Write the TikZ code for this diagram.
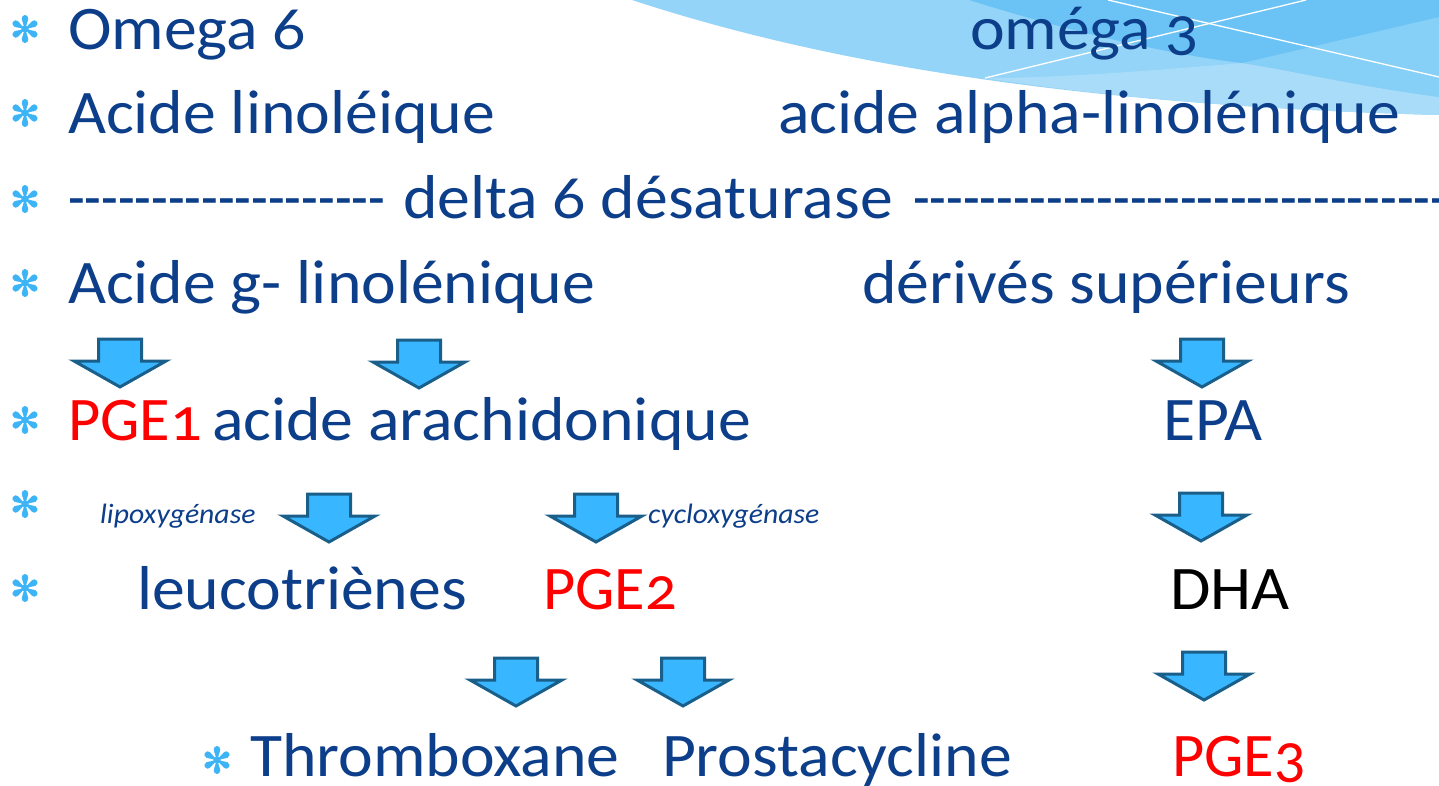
\documentclass[tikz,border=0pt]{standalone}
\usepackage{fontspec}
\setmainfont{Carlito}[FakeStretch=1.06,Numbers=OldStyle,Ligatures=TeXOff]
\newfontfamily\symfont{DejaVu Sans}[FakeBold=1.5]
\definecolor{ppblue}{RGB}{12,62,138}
\definecolor{bulletblue}{RGB}{60,180,245}
\definecolor{arrowfill}{RGB}{56,182,255}
\definecolor{arrowline}{RGB}{26,94,138}
\definecolor{waveA}{RGB}{168,220,249}
\definecolor{waveB}{RGB}{148,212,248}
\definecolor{waveD}{RGB}{134,207,246}
\definecolor{waveC}{RGB}{106,195,244}
\definecolor{pgered}{RGB}{255,0,0}
\tikzset{
  txt/.style={anchor=base west, inner sep=0pt, outer sep=0pt, text=ppblue, font=\fontsize{62}{70}\selectfont},
  pgetxt/.style={txt, text=pgered},
  blacktxt/.style={txt, text=black},
  enzyme/.style={anchor=base west, inner sep=0pt, text=ppblue, font=\fontsize{28}{32}\selectfont\itshape},
  bullet/.style={inner sep=0pt, text=bulletblue, font=\symfont\fontsize{36}{36}\selectfont},
  blockarrow/.style={fill=arrowfill, draw=arrowline, line width=3pt, line join=miter},
  downarrow/.pic={\draw[blockarrow] (-21.5,0) -- (21.5,0) -- (21.5,22) -- (46,22) -- (0,48) -- (-46,22) -- (-21.5,22) -- cycle;}
}
\newcommand{\pge}[1]{\scalebox{0.95}[1]{PGE#1}}
\begin{document}
\begin{tikzpicture}[x=1pt,y=-1pt]
\clip (0,0) rectangle (1439,786);
\fill[white] (0,0) rectangle (1439,786);
% background waves
\fill[waveB] (632,0) .. controls (830,65) and (1080,105) .. (1439,115) -- (1439,0) -- cycle;
\fill[waveA] (985,78) .. controls (1100,96) and (1250,110) .. (1439,115) -- (1439,97) .. controls (1350,85) and (1300,72) .. (1242,63) .. controls (1160,70) and (1060,78) .. (985,78) -- cycle;
\fill[waveD] (1242,63) -- (1439,17) -- (1439,97) .. controls (1350,85) and (1300,72) .. (1242,63) -- cycle;
\fill[waveC] (969,0) .. controls (1080,35) and (1180,56) .. (1242,63) -- (1439,17) -- (1439,0) -- cycle;
\draw[white, line width=1.3pt] (1108,0) -- (1439,77);
\draw[white, line width=1.3pt] (985,78) -- (1306,0);
% bullets
\node[bullet] (b1) at (25,29) {✻};
\node[bullet] (b2) at (25,113) {✻};
\node[bullet] (b3) at (25,199) {✻};
\node[bullet] (b4) at (25,283) {✻};
\node[bullet] (b5) at (25,420) {✻};
\node[bullet] (b6) at (25,504) {✻};
\node[bullet] (b7) at (25,588) {✻};
\node[bullet] (b8) at (217,760) {✻};
% row 1
\node[txt] (om6) at (68,50) {Omega 6};
\node[txt] (om3) at (970,50) {oméga 3};
% row 2
\node[txt] (la) at (68,134) {Acide linoléique};
\node[txt] (ala) at (778,134) {acide alpha-linolénique};
% row 3
\node[txt] (dl) at (68,219) {\scalebox{0.83}[1]{-------------------}};
\node[txt] (d6) at (403,219) {delta 6 désaturase};
\node[txt] (dr) at (913,219) {\scalebox{0.83}[1]{------------------------------------}};
% row 4
\node[txt] (gla) at (68,303) {Acide g- linolénique};
\node[txt] (der) at (862,303) {dérivés supérieurs};
% row 5
\node[pgetxt] (pge1) at (68,440) {\pge{1}};
\node[txt] (aa) at (212,440) {acide arachidonique};
\node[txt] (epa) at (1163,440) {EPA};
% row 6
\node[enzyme] (lipo) at (100,523) {lipoxygénase};
\node[enzyme] (cyclo) at (648,523) {cycloxygénase};
% row 7
\node[txt] (leuco) at (137,609) {leucotriènes};
\node[pgetxt] (pge2) at (543,609) {\pge{2}};
\node[blacktxt] (dha) at (1170,609) {DHA};
% row 8
\node[txt] (thx) at (250,776) {Thromboxane};
\node[txt] (prosta) at (662,776) {Prostacycline};
\node[pgetxt] (pge3) at (1172,776) {\pge{3}};
% block arrows
\pic at (120,339) {downarrow};
\pic at (419,340) {downarrow};
\pic at (1202,339) {downarrow};
\pic at (329,494) {downarrow};
\pic at (596,494) {downarrow};
\pic at (1201,493) {downarrow};
\pic at (516,658) {downarrow};
\pic at (683,658) {downarrow};
\pic at (1204,652) {downarrow};
\end{tikzpicture}
\end{document}
